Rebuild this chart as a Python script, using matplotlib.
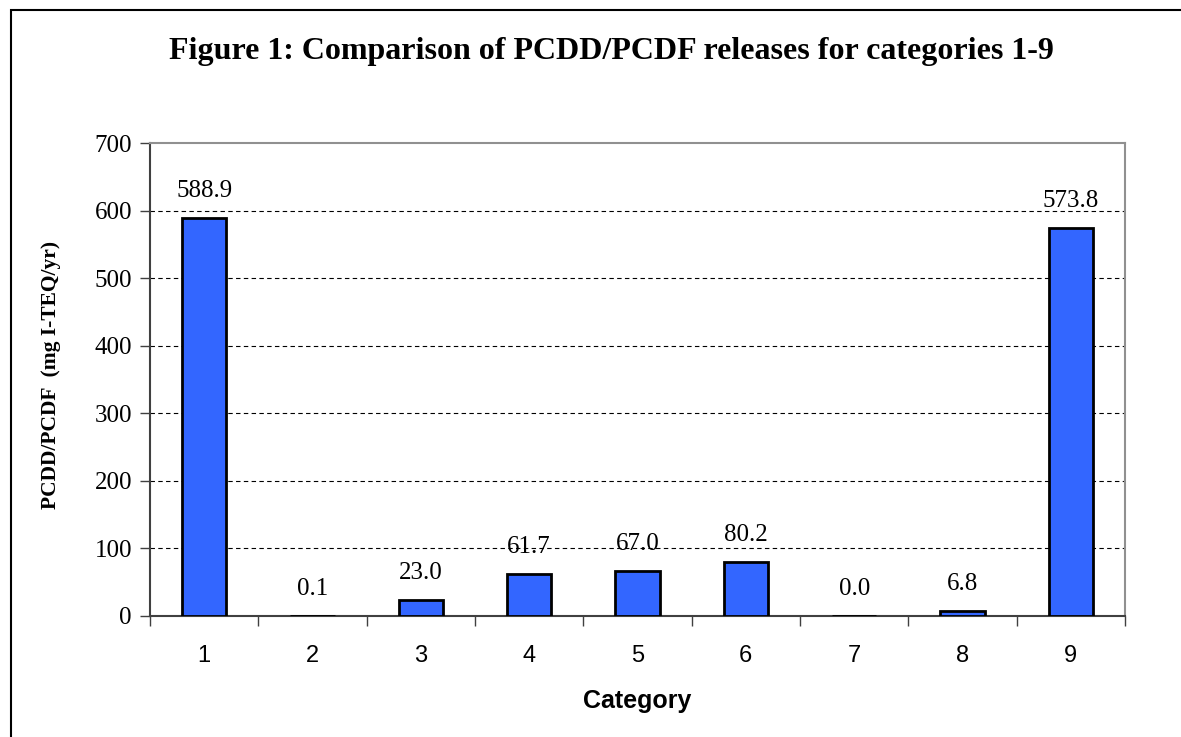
import matplotlib
matplotlib.use("Agg")
import matplotlib.pyplot as plt
from matplotlib.patches import Rectangle

categories = [1, 2, 3, 4, 5, 6, 7, 8, 9]
releases = [588.9, 0.1, 23.0, 61.7, 67.0, 80.2, 0.0, 6.8, 573.8]
yticks = [0, 100, 200, 300, 400, 500, 600, 700]

serif = "Liberation Serif"
sans = "Liberation Sans"

fig = plt.figure(figsize=(11.81, 7.37), dpi=100)
W, H = 1181, 737

# outer frame (runs off the right and bottom edge)
fig.patches.append(Rectangle((11 / W, -0.05), 1.2, (H - 10) / H + 0.05,
                             transform=fig.transFigure, fill=False,
                             edgecolor="black", linewidth=1.5))

ax = fig.add_axes([150 / W, (H - 616) / H, (1125 - 150) / W, (616 - 143) / H])
ax.bar(categories, releases, width=0.41, color="#3366FF",
       edgecolor="black", linewidth=2, zorder=3)

for x, v in zip(categories, releases):
    ax.annotate(f"{v:.1f}", (x, v), xytext=(0, 11.5), textcoords="offset points",
                ha="center", va="bottom", fontfamily=serif, fontsize=18)

ax.set_xlim(0.5, 9.5)
ax.set_ylim(0, 700)
ax.set_yticks(yticks)
ax.set_yticklabels([str(t) for t in yticks], fontfamily=serif, fontsize=18)
ax.set_xticks([c - 0.5 for c in categories] + [9.5])
ax.set_xticklabels([])
ax.set_xticks(categories, minor=True)
ax.set_xticklabels([str(c) for c in categories], minor=True,
                   fontfamily=sans, fontsize=17)
ax.tick_params(axis="x", which="minor", length=0, pad=21)
ax.tick_params(axis="x", which="major", length=7, width=1, color="#404040")
ax.tick_params(axis="y", length=7, width=1, color="#404040", pad=6)

for t in yticks[1:-1]:
    ax.axhline(t, color="black", linestyle=(0, (4, 3)), linewidth=0.8, zorder=1)

ax.spines["left"].set_color("#404040")
ax.spines["bottom"].set_color("#404040")
ax.spines["top"].set_color("#909090")
ax.spines["right"].set_color("#909090")
for s in ax.spines.values():
    s.set_linewidth(1.5)

ax.set_xlabel("Category", fontfamily=sans, fontsize=18, fontweight="bold", labelpad=16)

fig.text(611 / W, 1 - 52 / H,
         "Figure 1: Comparison of PCDD/PCDF releases for categories 1-9",
         ha="center", va="center", fontfamily=serif, fontsize=23, fontweight="bold")

fig.text(61 / W, (H - 375) / H, "PCDD/PCDF  (mg I-TEQ/yr)", rotation=90,
         ha="right", va="center", fontfamily=serif, fontsize=15.5, fontweight="bold")

fig.savefig("out.png", dpi=100)
